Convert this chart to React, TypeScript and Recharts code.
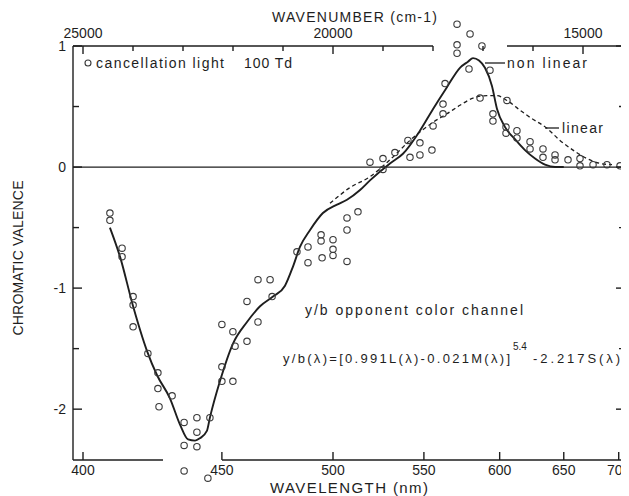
import React from "react";
import {
  ComposedChart,
  Line,
  Scatter,
  XAxis,
  YAxis,
  ReferenceLine,
} from "recharts";

// curves, wavelength in nm
const NONLINEAR_NM = [
  408.8, 412.2, 416.7, 421.6, 425.2, 429.9, 433.7, 436.7, 439.4, 441.3, 444.0,
  445.2, 449.2, 454.5, 460.4, 466.0, 471.7, 477.1, 480.8, 484.0, 488.8, 495.0,
  502.0, 507.1, 513.9, 519.2, 530.2, 537.6, 547.6, 555.6, 564.3, 572.7, 578.0,
  581.4, 585.5, 589.6, 594.5, 598.1, 603.9, 611.2, 618.8, 626.6, 634.5, 642.7,
  650.0,
];
const NONLINEAR_V = [
  -0.5, -0.74, -1.15, -1.52, -1.72, -1.91, -2.13, -2.25, -2.26, -2.24, -2.18,
  -2.07, -1.77, -1.46, -1.28, -1.15, -1.07, -0.98, -0.82, -0.66, -0.52, -0.38,
  -0.31, -0.27, -0.19, -0.11, 0.03, 0.11, 0.3, 0.48, 0.66, 0.82, 0.87, 0.9,
  0.88, 0.82, 0.67, 0.48, 0.33, 0.23, 0.14, 0.07, 0.02, 0.0, 0.0,
];

const LINEAR_NM = [
  498.5, 508.6, 519.2, 530.2, 541.7, 547.6, 555.6, 564.3, 572.7, 581.4, 591.0,
  598.1, 605.3, 615.0, 622.7, 636.1, 646.8, 657.9, 670.2, 682.1, 693.5,
];
const LINEAR_V = [
  -0.3, -0.17, -0.08, 0.06, 0.22, 0.29, 0.37, 0.44, 0.51, 0.57, 0.59, 0.59,
  0.55, 0.47, 0.41, 0.32, 0.22, 0.14, 0.07, 0.03, 0.02,
];

// cancellation light measurements
const POINTS_NM = [
  408.8, 408.8, 412.9, 412.9, 416.7, 416.7, 416.7, 421.9, 425.5, 425.5, 430.7,
  425.9, 435.2, 440.1, 440.1, 445.2, 435.2, 440.1, 435.2, 444.4, 450.0, 454.5,
  450.0, 450.0, 454.5, 455.4, 460.4, 460.4, 465.1, 470.4, 465.1, 471.3, 482.6,
  487.8, 487.8, 494.1, 494.1, 494.6, 500.0, 500.0, 500.0, 507.1, 507.1, 507.1,
  512.8, 519.2, 526.3, 533.0, 540.5, 547.6, 547.6, 554.9, 541.7, 526.3, 555.6,
  561.8, 561.8, 563.1, 570.8, 579.4, 587.5, 570.8, 570.8, 578.7, 593.1, 586.2,
  605.3, 595.2, 595.2, 604.6, 604.6, 612.7, 612.7, 622.7, 622.7, 632.9, 632.9,
  642.7, 642.7, 653.6, 664.0, 664.0, 675.7, 688.7, 701.3,
];
const POINTS_V = [
  -0.38, -0.44, -0.67, -0.74, -1.07, -1.14, -1.32, -1.54, -1.7, -1.83, -1.89,
  -1.98, -2.11, -2.07, -2.19, -2.07, -2.3, -2.31, -2.51, -2.57, -1.77, -1.77,
  -1.65, -1.3, -1.36, -1.48, -1.44, -1.11, -0.93, -0.93, -1.28, -1.07, -0.7,
  -0.66, -0.79, -0.56, -0.61, -0.75, -0.6, -0.68, -0.73, -0.52, -0.78, -0.42,
  -0.37, 0.04, 0.07, 0.12, 0.22, 0.2, 0.1, 0.14, 0.08, -0.02, 0.34, 0.52, 0.44,
  0.69, 1.18, 1.1, 1.0, 1.01, 0.94, 0.81, 0.8, 0.57, 0.55, 0.44, 0.38, 0.33,
  0.28, 0.3, 0.24, 0.21, 0.15, 0.15, 0.08, 0.1, 0.06, 0.06, 0.07, 0.01, 0.02,
  0.02, 0.01,
];

const WAVELENGTH_TICKS = [400, 450, 500, 550, 600, 650, 700];
const WAVENUMBER_TICKS = [
  25000, 24000, 23000, 22000, 21000, 20000, 19000, 18000, 17000, 16000, 15000,
];
const WAVENUMBER_LABELS = [25000, 20000, 15000];
const VALENCE_TICKS = [1, 0.5, 0, -0.5, -1, -1.5, -2];

// axis frame is broken where the points cross it
const BOTTOM_GAP_NU = [23400, 22220];
const TOP_GAP_NU = [18000, 16520];

const W = 621;
const H = 488;
const X_DOMAIN = [14160, 25200];
const Y_DOMAIN = [-2.42, 1];
const INK = "#1e1e1e";
const FONT = '"Liberation Sans", Arial, sans-serif';

const toNu = (nm: number) => 1e7 / nm;
const pairs = (nm: number[], v: number[]) =>
  nm.map((w, i) => ({ nu: toNu(w), v: v[i] }));

// ticks point into the plot, labels sit outside
const AxisTick = ({ x, y, side, gap, len, text }: any) => {
  let line;
  if (side === "bottom") line = { x1: x, x2: x, y1: y - gap, y2: y - gap - len };
  else if (side === "top") line = { x1: x, x2: x, y1: y + gap, y2: y + gap + len };
  else if (side === "left") line = { x1: x + gap, x2: x + gap + len, y1: y, y2: y };
  else line = { x1: x - gap, x2: x - gap - len, y1: y, y2: y };

  return (
    <g>
      <line {...line} stroke={INK} strokeWidth={1.4} />
      {text ? (
        <text
          x={x}
          y={y}
          dy={side === "bottom" ? "0.75em" : side === "left" ? "0.35em" : 0}
          textAnchor={side === "left" ? "end" : "middle"}
          fontFamily={FONT}
          fontSize={14}
          fill={INK}
        >
          {text}
        </text>
      ) : null}
    </g>
  );
};

const OpenCircle = ({ cx, cy }: any) => (
  <circle cx={cx} cy={cy} r={3.2} fill="none" stroke="#3a3a3a" strokeWidth={1.1} />
);

export default function App() {
  const nonlinear = pairs(NONLINEAR_NM, NONLINEAR_V);
  const linear = pairs(LINEAR_NM, LINEAR_V);
  const points = pairs(POINTS_NM, POINTS_V);

  const frame = { stroke: INK, strokeWidth: 1.4, ifOverflow: "visible" as const };
  const [xMin, xMax] = X_DOMAIN;
  const [yMin, yMax] = Y_DOMAIN;

  return (
    <div style={{ position: "relative", width: W, height: H, background: "#fff" }}>
      <style>{`.recharts-scatter{clip-path:none!important}`}</style>
      <ComposedChart
        width={W}
        height={H}
        margin={{ top: 18, right: 0, bottom: 16, left: 45 }}
      >
        <XAxis
          xAxisId="b"
          type="number"
          dataKey="nu"
          domain={X_DOMAIN}
          reversed
          allowDataOverflow
          ticks={WAVELENGTH_TICKS.map(toNu)}
          interval={0}
          axisLine={false}
          tickLine={false}
          tickSize={0}
          tickMargin={4}
          height={20}
          tick={(p: any) => (
            <AxisTick
              {...p}
              side="bottom"
              gap={4}
              len={8}
              text={String(Math.round(1e7 / p.payload.value))}
            />
          )}
        />
        <XAxis
          xAxisId="t"
          orientation="top"
          type="number"
          dataKey="nu"
          domain={X_DOMAIN}
          reversed
          allowDataOverflow
          ticks={WAVENUMBER_TICKS}
          interval={0}
          axisLine={false}
          tickLine={false}
          tickSize={0}
          tickMargin={8}
          height={20}
          tick={(p: any) => {
            const major = WAVENUMBER_LABELS.includes(p.payload.value);
            return (
              <AxisTick
                {...p}
                side="top"
                gap={8}
                len={major ? 8 : 5}
                text={major ? String(p.payload.value) : ""}
              />
            );
          }}
        />
        <YAxis
          yAxisId="l"
          type="number"
          domain={Y_DOMAIN}
          allowDataOverflow
          ticks={VALENCE_TICKS}
          interval={0}
          axisLine={{ stroke: INK, strokeWidth: 1.4 }}
          tickLine={false}
          tickSize={0}
          tickMargin={7}
          width={20}
          tick={(p: any) => {
            const major = Number.isInteger(p.payload.value);
            return (
              <AxisTick
                {...p}
                side="left"
                gap={7}
                len={major ? 9 : 6}
                text={major ? String(p.payload.value) : ""}
              />
            );
          }}
        />
        <YAxis
          yAxisId="r"
          orientation="right"
          type="number"
          domain={Y_DOMAIN}
          allowDataOverflow
          ticks={VALENCE_TICKS}
          interval={0}
          axisLine={{ stroke: INK, strokeWidth: 1.4 }}
          tickLine={false}
          tickSize={0}
          tickMargin={2}
          width={4}
          tick={(p: any) => (
            <AxisTick
              {...p}
              side="right"
              gap={2}
              len={Number.isInteger(p.payload.value) ? 9 : 6}
              text=""
            />
          )}
        />

        <ReferenceLine
          xAxisId="b"
          yAxisId="l"
          segment={[{ x: xMax, y: yMin }, { x: BOTTOM_GAP_NU[0], y: yMin }]}
          {...frame}
        />
        <ReferenceLine
          xAxisId="b"
          yAxisId="l"
          segment={[{ x: BOTTOM_GAP_NU[1], y: yMin }, { x: xMin, y: yMin }]}
          {...frame}
        />
        <ReferenceLine
          xAxisId="b"
          yAxisId="l"
          segment={[{ x: xMax, y: yMax }, { x: TOP_GAP_NU[0], y: yMax }]}
          {...frame}
        />
        <ReferenceLine
          xAxisId="b"
          yAxisId="l"
          segment={[{ x: TOP_GAP_NU[1], y: yMax }, { x: xMin, y: yMax }]}
          {...frame}
        />
        <ReferenceLine xAxisId="b" yAxisId="l" y={0} stroke={INK} strokeWidth={1.3} />

        {/* invisible copy so the wavenumber axis and right frame get drawn */}
        <Line
          xAxisId="t"
          yAxisId="r"
          data={linear}
          dataKey="v"
          stroke="none"
          dot={false}
          activeDot={false}
          legendType="none"
          isAnimationActive={false}
        />
        <Line
          xAxisId="b"
          yAxisId="l"
          data={linear}
          dataKey="v"
          type="monotone"
          stroke={INK}
          strokeWidth={1.3}
          strokeDasharray="4 3"
          dot={false}
          isAnimationActive={false}
        />
        <Line
          xAxisId="b"
          yAxisId="l"
          data={nonlinear}
          dataKey="v"
          type="monotone"
          stroke={INK}
          strokeWidth={1.9}
          dot={false}
          isAnimationActive={false}
        />
        <Scatter
          xAxisId="b"
          yAxisId="l"
          data={points}
          dataKey="v"
          shape={OpenCircle}
          isAnimationActive={false}
        />
      </ComposedChart>

      <svg
        width={W}
        height={H}
        style={{ position: "absolute", left: 0, top: 0, pointerEvents: "none" }}
        fontFamily={FONT}
        fill={INK}
      >
        <text x={264} y={14} fontSize={14} textLength={165} lengthAdjust="spacing">
          WAVENUMBER (cm-1)
        </text>
        <text x={262} y={485} fontSize={15} textLength={158} lengthAdjust="spacing">
          WAVELENGTH (nm)
        </text>
        <text
          transform="translate(15 250) rotate(-90)"
          textAnchor="middle"
          fontSize={14}
          textLength={155}
          lengthAdjust="spacing"
        >
          CHROMATIC VALENCE
        </text>

        <circle cx={80} cy={55} r={3} fill="none" stroke="#3a3a3a" strokeWidth={1.1} />
        <text x={88} y={60} fontSize={14} textLength={128} lengthAdjust="spacing">
          cancellation light
        </text>
        <text x={236} y={60} fontSize={14} textLength={48} lengthAdjust="spacing">
          100 Td
        </text>

        <line x1={477} y1={55} x2={497} y2={55} stroke={INK} strokeWidth={1.3} />
        <text x={499} y={60} fontSize={14} textLength={80} lengthAdjust="spacing">
          non linear
        </text>
        <line x1={537} y1={120} x2={551} y2={120} stroke={INK} strokeWidth={1.3} />
        <text x={554} y={125} fontSize={14} textLength={41} lengthAdjust="spacing">
          linear
        </text>

        <text x={297} y={307} fontSize={14} textLength={218} lengthAdjust="spacing">
          y/b opponent color channel
        </text>
        <text x={275} y={355} fontSize={13} textLength={227} lengthAdjust="spacing">
          y/b(λ)=[0.991L(λ)-0.021M(λ)]
        </text>
        <text x={505} y={342} fontSize={10}>
          5.4
        </text>
        <text x={525} y={355} fontSize={13} textLength={87} lengthAdjust="spacing">
          -2.217S(λ)
        </text>
      </svg>
    </div>
  );
}
